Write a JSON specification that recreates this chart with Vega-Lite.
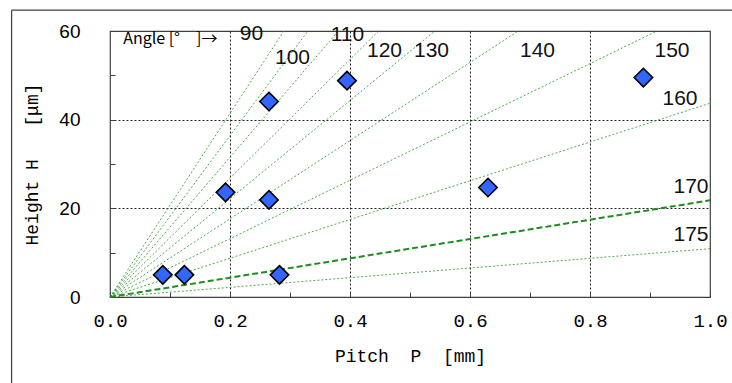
{
  "$schema": "https://vega.github.io/schema/vega-lite/v6.json",
  "width": 600,
  "height": 266,
  "autosize": {"type": "none"},
  "padding": {"left": 110, "top": 31, "right": 22, "bottom": 86},
  "background": "white",
  "config": {"view": {"stroke": "#404040", "strokeWidth": 1.2}},
  "datasets": {
    "guides": [
      {"angle": 90, "P": 0, "H": 0}, {"angle": 90, "P": 0.2897, "H": 60},
      {"angle": 100, "P": 0, "H": 0}, {"angle": 100, "P": 0.3297, "H": 60},
      {"angle": 110, "P": 0, "H": 0}, {"angle": 110, "P": 0.3807, "H": 60},
      {"angle": 120, "P": 0, "H": 0}, {"angle": 120, "P": 0.4478, "H": 60},
      {"angle": 130, "P": 0, "H": 0}, {"angle": 130, "P": 0.5415, "H": 60},
      {"angle": 140, "P": 0, "H": 0}, {"angle": 140, "P": 0.6804, "H": 60},
      {"angle": 150, "P": 0, "H": 0}, {"angle": 150, "P": 0.9118, "H": 60},
      {"angle": 160, "P": 0, "H": 0}, {"angle": 160, "P": 1.0, "H": 43.7},
      {"angle": 170, "P": 0, "H": 0}, {"angle": 170, "P": 1.0, "H": 21.8},
      {"angle": 175, "P": 0, "H": 0}, {"angle": 175, "P": 1.0, "H": 10.9}
    ],
    "points": [
      {"P": 0.088, "H": 5.0}, {"P": 0.124, "H": 5.0}, {"P": 0.1925, "H": 23.6},
      {"P": 0.265, "H": 21.9}, {"P": 0.265, "H": 44.1}, {"P": 0.2825, "H": 5.0},
      {"P": 0.395, "H": 48.8}, {"P": 0.63, "H": 24.7}, {"P": 0.889, "H": 49.5}
    ],
    "labels": [
      {"text": "90", "P": 0.2358, "H": 59.4},
      {"text": "100", "P": 0.3042, "H": 53.9},
      {"text": "110", "P": 0.3958, "H": 59.2},
      {"text": "120", "P": 0.4575, "H": 55.6},
      {"text": "130", "P": 0.5358, "H": 55.5},
      {"text": "140", "P": 0.7125, "H": 55.5},
      {"text": "150", "P": 0.9367, "H": 55.5},
      {"text": "160", "P": 0.95, "H": 44.6},
      {"text": "170", "P": 0.9683, "H": 24.9},
      {"text": "175", "P": 0.9683, "H": 14.0}
    ]
  },
  "layer": [
    {
      "data": {"name": "guides"},
      "transform": [{"filter": "datum.angle != 170"}],
      "mark": {"type": "line", "color": "#2f9e2f", "strokeWidth": 1, "strokeDash": [2, 2], "opacity": 0.85},
      "encoding": {
        "x": {
          "field": "P", "type": "quantitative",
          "scale": {"domain": [0, 1], "nice": false, "zero": false},
          "axis": {
            "title": "Pitch\u00a0\u00a0P\u00a0\u00a0[mm]",
            "values": [0, 0.1, 0.2, 0.3, 0.4, 0.5, 0.6, 0.7, 0.8, 0.9, 1.0],
            "labelExpr": "round(datum.value*10)%2==0 ? format(datum.value,'.1f') : ''",
            "domain": false,
            "tickSize": -5, "tickColor": "#404040", "tickWidth": 1,
            "grid": true, "gridColor": "#222", "gridDash": [2, 2], "gridWidth": 1,
            "gridOpacity": {"condition": {"test": "round(datum.value*10)%2==0 && datum.value>0.05 && datum.value<0.95", "value": 1}, "value": 0},
            "labelFont": "Liberation Mono", "labelFontSize": 19, "labelColor": "#000", "labelPadding": 19,
            "labelFlush": false,
            "titleFont": "Liberation Mono", "titleFontSize": 18, "titleFontWeight": "normal", "titleColor": "#000",
            "titleX": 300, "titleY": 59, "titleBaseline": "middle", "titleAlign": "center"
          }
        },
        "y": {
          "field": "H", "type": "quantitative",
          "scale": {"domain": [0, 60], "nice": false, "zero": false},
          "axis": {
            "title": "Height\u00a0H\u00a0\u00a0\u00a0[μm]",
            "values": [0, 10, 20, 30, 40, 50, 60],
            "labelExpr": "datum.value%20==0 ? datum.value : ''",
            "domain": false,
            "tickSize": -5, "tickColor": "#404040", "tickWidth": 1,
            "grid": true, "gridColor": "#222", "gridDash": [2, 2], "gridWidth": 1,
            "gridOpacity": {"condition": {"test": "datum.value==20 || datum.value==40", "value": 1}, "value": 0},
            "labelFont": "Liberation Sans", "labelFontSize": 19, "labelColor": "#000", "labelPadding": 35,
            "labelFlush": false,
            "titleFont": "Liberation Mono", "titleFontSize": 18, "titleFontWeight": "normal", "titleColor": "#000",
            "titleX": -78, "titleY": 133, "titleBaseline": "middle", "titleAlign": "center", "titleAngle": 270
          }
        },
        "detail": {"field": "angle", "type": "nominal"}
      }
    },
    {
      "data": {"name": "guides"},
      "transform": [{"filter": "datum.angle == 170"}],
      "mark": {"type": "line", "color": "#1e8c1e", "strokeWidth": 2, "strokeDash": [6, 3]},
      "encoding": {
        "x": {"field": "P", "type": "quantitative"},
        "y": {"field": "H", "type": "quantitative"}
      }
    },
    {
      "data": {"name": "points"},
      "mark": {"type": "point", "shape": "diamond", "size": 340, "filled": true, "fill": "#3366ff", "stroke": "#000", "strokeWidth": 1.6, "opacity": 1},
      "encoding": {
        "x": {"field": "P", "type": "quantitative"},
        "y": {"field": "H", "type": "quantitative"}
      }
    },
    {
      "data": {"name": "labels"},
      "mark": {"type": "text", "font": "Liberation Sans", "fontSize": 21, "align": "center", "baseline": "middle", "color": "#111"},
      "encoding": {
        "x": {"field": "P", "type": "quantitative"},
        "y": {"field": "H", "type": "quantitative"},
        "text": {"field": "text"}
      }
    },
    {
      "data": {"values": [{}]},
      "mark": {"type": "text", "text": "Angle [°\u3000]→", "font": "Noto Sans CJK JP", "fontSize": 16, "align": "left", "baseline": "middle", "color": "#000"},
      "encoding": {
        "x": {"datum": 0.022, "type": "quantitative"},
        "y": {"datum": 58.3, "type": "quantitative"}
      }
    },
    {
      "data": {"values": [{}]},
      "mark": {"type": "rule", "color": "#404040", "strokeWidth": 1.2, "clip": false},
      "encoding": {
        "x": {"datum": -0.164, "type": "quantitative"},
        "y": {"datum": -25, "type": "quantitative"},
        "y2": {"datum": 64.7}
      }
    },
    {
      "data": {"values": [{}]},
      "mark": {"type": "rule", "color": "#404040", "strokeWidth": 1.2, "clip": false},
      "encoding": {
        "x": {"datum": -0.164, "type": "quantitative"},
        "x2": {"datum": 1.1},
        "y": {"datum": 64.7, "type": "quantitative"}
      }
    }
  ]
}
